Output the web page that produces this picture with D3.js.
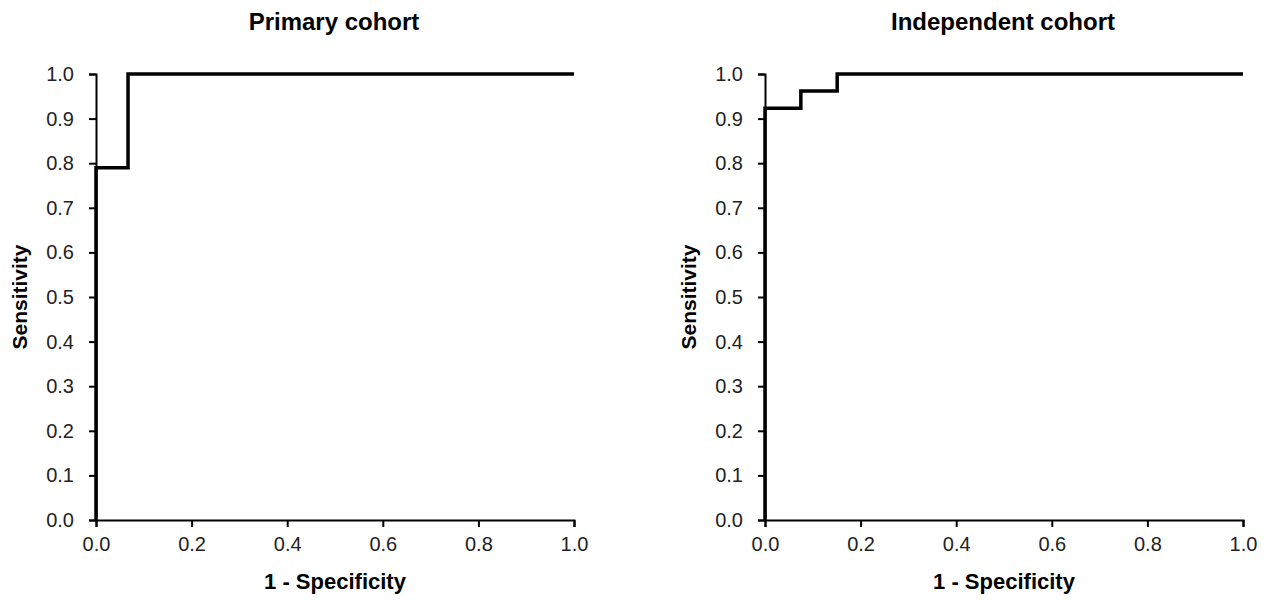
<!DOCTYPE html>
<html>
<head>
<script src="https://d3js.org/d3.v7.min.js"></script>
<style>
  body { margin: 0; background: #fff; }
  text { font-family: "Liberation Sans", Arial, sans-serif; }
</style>
</head>
<body>
<svg width="1271" height="601"></svg>
<script>
// ROC step points (1 - specificity, sensitivity)
var primaryFpr = [0, 0, 0.067, 0.067, 1];
var primaryTpr = [0, 0.79, 0.79, 1, 1];
var independentFpr = [0, 0, 0.075, 0.075, 0.151, 0.151, 1];
var independentTpr = [0, 0.923, 0.923, 0.962, 0.962, 1, 1];
var titles = ["Primary cohort", "Independent cohort"];
var yTickValues = [0, 0.1, 0.2, 0.3, 0.4, 0.5, 0.6, 0.7, 0.8, 0.9, 1.0];
var xTickValues = [0, 0.2, 0.4, 0.6, 0.8, 1.0];

var svg = d3.select("svg");
var panels = [
  { title: titles[0], fpr: primaryFpr, tpr: primaryTpr, left: 96 },
  { title: titles[1], fpr: independentFpr, tpr: independentTpr, left: 765 }
];
var plotW = 478, plotTop = 74, plotBottom = 520;

panels.forEach(function(p) {
  var x = d3.scaleLinear().domain([0, 1]).range([p.left, p.left + plotW]);
  var y = d3.scaleLinear().domain([0, 1]).range([plotBottom, plotTop]);
  var g = svg.append("g");

  var xAxis = g.append("g")
    .attr("transform", "translate(0," + plotBottom + ")")
    .call(d3.axisBottom(x).tickValues(xTickValues).tickSize(7).tickPadding(10).tickFormat(d3.format(".1f")));
  var yAxis = g.append("g")
    .attr("transform", "translate(" + p.left + ",0)")
    .call(d3.axisLeft(y).tickValues(yTickValues).tickSize(7).tickPadding(15).tickFormat(d3.format(".1f")));

  [xAxis, yAxis].forEach(function(a) {
    a.select(".domain").attr("stroke", "#000").attr("stroke-width", 2);
    a.selectAll(".tick line").attr("stroke", "#000").attr("stroke-width", 2);
    a.selectAll(".tick text").attr("fill", "#222").style("font-size", "20px");
  });

  var pts = p.fpr.map(function(d, i) { return [d, p.tpr[i]]; });
  g.append("path")
    .datum(pts)
    .attr("fill", "none")
    .attr("stroke", "#000")
    .attr("stroke-width", 3.5)
    .attr("d", d3.line().x(function(d) { return x(d[0]); }).y(function(d) { return y(d[1]); }));

  g.append("text")
    .attr("x", p.left + plotW / 2 - 1)
    .attr("y", 30)
    .attr("text-anchor", "middle")
    .style("font-size", "24px")
    .style("font-weight", "bold")
    .text(p.title);

  g.append("text")
    .attr("x", p.left + plotW / 2)
    .attr("y", 589)
    .attr("text-anchor", "middle")
    .style("font-size", "22px")
    .style("font-weight", "bold")
    .text("1 - Specificity");

  g.append("text")
    .attr("transform", "translate(" + (p.left - 69) + "," + ((plotTop + plotBottom) / 2) + ") rotate(-90)")
    .attr("text-anchor", "middle")
    .style("font-size", "21px")
    .style("font-weight", "bold")
    .text("Sensitivity");
});
</script>
</body>
</html>
